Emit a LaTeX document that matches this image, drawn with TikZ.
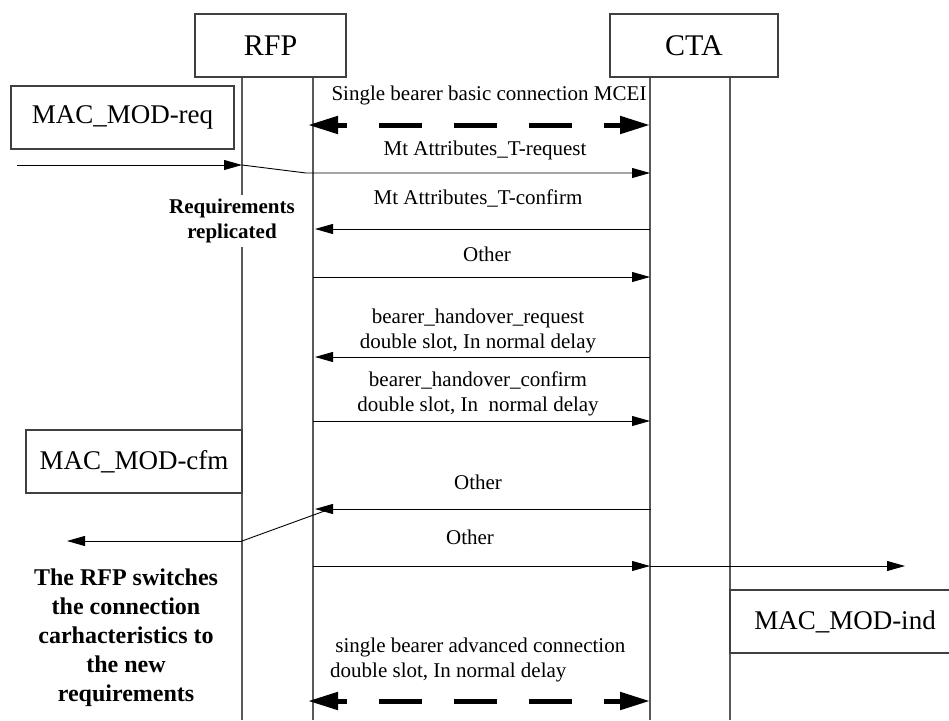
\documentclass[tikz,border=0pt]{standalone}
\usepackage{fontspec}
\setmainfont{Liberation Serif}
\usetikzlibrary{arrows.meta}
\begin{document}
\begin{tikzpicture}[x=1pt,y=-1pt,
  life/.style={draw=black!65, line width=1.4pt},
  box/.style={draw=black!75, line width=1.2pt, fill=white, inner sep=0pt, minimum height=63pt, font=\fontsize{27}{30}\selectfont},
  hdr/.style={box, font=\fontsize{30}{33}\selectfont},
  msg/.style={draw=black, line width=0.9pt, -{Triangle[length=18pt,width=10pt]}},
  plain/.style={draw=black, line width=0.9pt},
  bigmsg/.style={draw=black, line width=5pt, dash pattern=on 43pt off 32pt, dash phase=33pt, {Triangle[length=30pt,width=17pt]}-{Triangle[length=30pt,width=17pt]}},
  lbl/.style={font=\fontsize{21}{25}\selectfont, inner sep=0pt, align=center},
  lbll/.style={font=\fontsize{21}{25}\selectfont, inner sep=0pt, align=left, anchor=west},
  note/.style={font=\bfseries\fontsize{24}{29}\selectfont, inner sep=0pt, align=center},
  note2/.style={font=\bfseries\fontsize{21}{25}\selectfont, inner sep=0pt, align=center}
]
\useasboundingbox (0,0) rectangle (949,720);

% lifelines
\draw[life] (242,77) -- (242,195);
\draw[life] (242,247) -- (242,720);
\draw[life] (313,77) -- (313,720);
\draw[life] (650,77) -- (650,720);
\draw[life] (730,77) -- (730,720);

% header boxes
\node[hdr, minimum width=151pt] (rfp) at (270.5,45.5) {RFP};
\node[hdr, minimum width=168pt] (cta) at (694,45.5) {CTA};

% primitive boxes
\node[box, minimum width=223pt] (req) at (122.5,117.5) {MAC\_MOD-req};
\node[box, minimum width=216pt] (cfm) at (134,461.5) {MAC\_MOD-cfm};
\node[box, minimum width=230pt] (ind) at (845,621.5) {MAC\_MOD-ind};

% coordinates
\coordinate (inA) at (17,165);
\coordinate (rA) at (242,165);
\coordinate (kA) at (306,173);
\coordinate (cA) at (650,173);
\coordinate (d1L) at (308,125);
\coordinate (d1R) at (650,125);
\coordinate (c2) at (650,229);
\coordinate (r2) at (315,229);
\coordinate (r3) at (313,277);
\coordinate (c3) at (650,277);
\coordinate (c4) at (650,357);
\coordinate (r4) at (315,357);
\coordinate (r5) at (313,421);
\coordinate (c5) at (650,421);
\coordinate (c6) at (651,509);
\coordinate (r6) at (315,509);
\coordinate (k6) at (330,509);
\coordinate (rB) at (242,541);
\coordinate (outB) at (67,541);
\coordinate (r7) at (313,566);
\coordinate (c7) at (650,566);
\coordinate (out7) at (905,566);
\coordinate (d2L) at (308,701);
\coordinate (d2R) at (650,701);

% messages
\draw[bigmsg] (d1L) -- (d1R);
\draw[msg] (inA) -- (rA);
\draw[msg] (rA) -- (kA) -- (cA);
\draw[msg] (c2) -- (r2);
\draw[msg] (r3) -- (c3);
\draw[msg] (c4) -- (r4);
\draw[msg] (r5) -- (c5);
\draw[msg] (c6) -- (r6);
\draw[plain] (k6) -- (rB);
\draw[msg] (rB) -- (outB);
\draw[msg] (r7) -- (c7);
\draw[msg] (c7) -- (out7);
\draw[bigmsg] (d2L) -- (d2R);

% labels
\node[lbl] (l1) at (489,95) {Single bearer basic connection MCEI};
\node[lbl] (l2) at (485,150) {Mt Attributes\_T-request};
\node[lbl] (l3) at (478,198) {Mt Attributes\_T-confirm};
\node[lbl] (l4) at (487,254) {Other};
\node[lbl] (l5) at (478,331) {bearer\_handover\_request\\double slot, In normal delay};
\node[lbl] (l6) at (478,394) {bearer\_handover\_confirm\\double slot, In\ \ normal delay};
\node[lbl] (l7) at (478,482) {Other};
\node[lbl] (l8) at (470,537) {Other};
\node[lbll] (l9) at (330,660) {\ single bearer advanced connection\\double slot, In normal delay};

\node[note2] (n1) at (232,221) {Requirements\\replicated};
\node[note] (n2) at (126,638) {The RFP switches\\the connection\\carhacteristics to\\the new\\requirements};
\end{tikzpicture}
\end{document}
